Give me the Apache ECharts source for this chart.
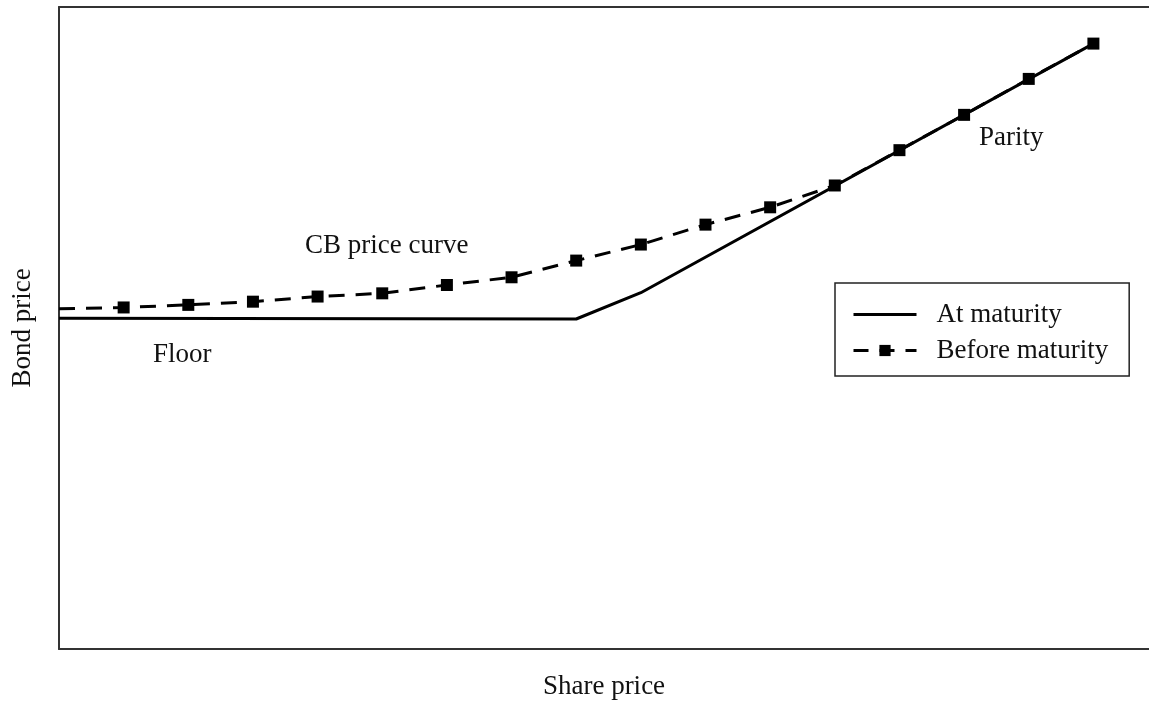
<!DOCTYPE html>
<html>
<head>
<meta charset="utf-8">
<script src="https://cdn.jsdelivr.net/npm/echarts@6/dist/echarts.min.js"></script>
<style>
html,body{margin:0;padding:0;background:#fff;}
#chart{width:1149px;height:705px;}
</style>
</head>
<body>
<div id="chart"></div>
<script>
// Share price positions (arbitrary units, 0 = left edge of plot)
const beforeX = [0, 1, 2, 3, 4, 5, 6, 7, 8, 9, 10, 11, 12, 13, 14, 15, 16];
// CB price curve (before maturity)
const beforeY = [53.0, 53.2, 53.6, 54.1, 54.9, 55.4, 56.7, 57.9, 60.5, 63.0, 66.1, 68.8, 72.2, 77.7, 83.2, 88.8, 94.3];
// Payoff at maturity: floor, then parity
const atX = [0, 8, 9, 16];
const atY = [51.5, 51.4, 55.5, 94.3];
const seriesNames = ['At maturity', 'Before maturity'];
const axisNames = ['Share price', 'Bond price'];
const annotations = [
  {text: 'CB price curve', left: 305, top: 232},
  {text: 'Floor', left: 153, top: 341},
  {text: 'Parity', left: 979, top: 124}
];

const FONT = '"Liberation Serif", "DejaVu Serif", serif';
const chart = echarts.init(document.getElementById('chart'));

const atData = atX.map((x, i) => [x, atY[i]]);
const beforeData = beforeX.map((x, i) => i === 0 ? {value: [x, beforeY[i]], symbol: 'none'} : [x, beforeY[i]]);

const frameLine = {show: true, lineStyle: {color: '#333', width: 2}};
const hidden = {axisTick: {show: false}, axisLabel: {show: false}, splitLine: {show: false}};

chart.setOption({
  animation: false,
  backgroundColor: '#fff',
  grid: {left: 59, top: 7, right: 0, bottom: 53, show: false},
  xAxis: [
    Object.assign({
      type: 'value', min: 0, max: 16.86, position: 'bottom',
      name: axisNames[0], nameLocation: 'middle', nameGap: 24,
      nameTextStyle: {fontFamily: FONT, fontSize: 27, color: '#111'},
      axisLine: frameLine
    }, hidden),
    Object.assign({
      type: 'value', min: 0, max: 16.86, position: 'top',
      axisLine: frameLine
    }, hidden)
  ],
  yAxis: Object.assign({
    type: 'value', min: 0, max: 100,
    name: axisNames[1], nameLocation: 'middle', nameGap: 23, nameRotate: 90,
    nameTextStyle: {fontFamily: FONT, fontSize: 27, color: '#111'},
    axisLine: frameLine
  }, hidden),
  legend: {
    orient: 'vertical',
    left: 835, top: 283,
    padding: [18, 21, 12, 17],
    itemGap: 9,
    itemWidth: 63, itemHeight: 14,
    borderColor: '#222', borderWidth: 1.5,
    backgroundColor: '#fff',
    data: [
      {name: seriesNames[0], itemStyle: {opacity: 0}, lineStyle: {width: 3}},
      {name: seriesNames[1], lineStyle: {type: [15, 11], width: 3}}
    ],
    textStyle: {fontFamily: FONT, fontSize: 27, color: '#111', lineHeight: 27, padding: [0, 0, 0, 15]}
  },
  graphic: annotations.map(a => ({
    type: 'text', left: a.left, top: a.top,
    style: {text: a.text, font: '27px ' + FONT, fill: '#111'}
  })),
  series: [
    {
      name: seriesNames[0], type: 'line', data: atData,
      symbol: 'none', smooth: false,
      lineStyle: {color: '#000', width: 3},
      itemStyle: {color: '#000'}, z: 2
    },
    {
      name: seriesNames[1], type: 'line', data: beforeData,
      symbol: 'rect', symbolSize: 12, showAllSymbol: true,
      lineStyle: {color: '#000', width: 3, type: [16, 11]},
      itemStyle: {color: '#000'}, z: 3
    }
  ]
});
</script>
</body>
</html>
